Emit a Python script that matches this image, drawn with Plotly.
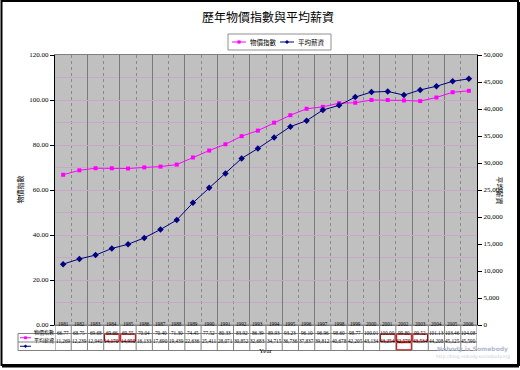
import plotly.graph_objects as go

years = list(range(1981, 2007))
cpi = [66.77, 68.75, 69.68, 69.66, 69.55, 70.04, 70.40, 71.30, 74.45, 77.52,
       80.33, 83.92, 86.39, 89.93, 93.23, 96.10, 96.96, 98.60, 98.77, 100.01,
       100.00, 99.80, 99.52, 101.13, 103.46, 104.08]
wage = [11269, 12239, 12940, 14170, 14950, 16133, 17690, 19439, 22636, 25411,
        28071, 30852, 32683, 34715, 36736, 37837, 39812, 40678, 42205, 43134,
        43254, 42570, 43534, 44208, 45125, 45590]
cpi_name = "物價指數"
wage_name = "平均薪資"
title_text = "歷年物價指數與平均薪資"
highlight_cpi = [1984, 1985, 2001, 2002, 2003]
highlight_wage = [2002]

W, H = 520, 370
L, R, T, B = 55, 477, 55, 325
FONT = "Liberation Serif, Noto Sans CJK TC"

def px(xp):
    return (xp - L) / (R - L)

def py(yp):
    return (B - yp) / (B - T)

PINK = "#ff00ff"
NAVY = "#000080"
HGRID = "#c8a8c8"

fig = go.Figure()
fig.add_trace(go.Scatter(x=years, y=cpi, name=cpi_name, mode="lines+markers",
                         line=dict(color=PINK, width=1),
                         marker=dict(symbol="square", size=4, color=PINK)))
fig.add_trace(go.Scatter(x=years, y=wage, name=wage_name, mode="lines+markers", yaxis="y2",
                         line=dict(color=NAVY, width=1),
                         marker=dict(symbol="diamond", size=5, color=NAVY)))

fig.update_layout(
    width=W, height=H,
    margin=dict(l=L, r=W - R, t=T, b=H - B),
    paper_bgcolor="white", plot_bgcolor="#c0c0c0",
    font=dict(family=FONT, size=7, color="black"),
    title=dict(text=title_text, x=(268) / W, xanchor="center", y=1 - 18 / H, yanchor="middle",
               font=dict(size=12, family=FONT)),
    showlegend=False,
    xaxis=dict(range=[1980.5, 2006.5], showticklabels=False, ticks="",
               tick0=1982.5, dtick=2, showgrid=True, gridcolor="#7a7a7a", gridwidth=1,
               minor=dict(tick0=1981.5, dtick=2, showgrid=True, gridcolor="#8a8a8a",
                          griddash="dot", gridwidth=1),
               zeroline=False, showline=True, linecolor="#808080", mirror=True),
    yaxis=dict(range=[0, 120], dtick=20, tickformat=".2f", ticks="outside", ticklen=4,
               tickcolor="black", showline=True, linecolor="black",
               showgrid=True, gridcolor=HGRID, gridwidth=1,
               minor=dict(dtick=10, showgrid=True, gridcolor=HGRID, ticks=""),
               zeroline=False),
    yaxis2=dict(range=[0, 50000], dtick=5000, tickformat=",d", ticks="outside", ticklen=4,
                tickcolor="black", overlaying="y", side="right", showline=True,
                linecolor="black", showgrid=False, zeroline=False),
)

shapes = []
annotations = []

def key(x0, x1, yc, col, sym, s=1.6):
    shapes.append(dict(type="line", xref="paper", yref="paper", x0=px(x0), x1=px(x1),
                       y0=py(yc), y1=py(yc), line=dict(color=col, width=1)))
    xm = (x0 + x1) / 2
    if sym == "square":
        shapes.append(dict(type="rect", xref="paper", yref="paper",
                           x0=px(xm - s), x1=px(xm + s), y0=py(yc + s), y1=py(yc - s),
                           fillcolor=col, line=dict(color=col, width=0)))
    else:
        s2 = s + 0.4
        path = (f"M {px(xm)} {py(yc - s2)} L {px(xm + s2)} {py(yc)} "
                f"L {px(xm)} {py(yc + s2)} L {px(xm - s2)} {py(yc)} Z")
        shapes.append(dict(type="path", xref="paper", yref="paper", path=path,
                           fillcolor=col, line=dict(color=col, width=0)))

# top legend (custom, compact)
LEG_Y = 42
shapes.append(dict(type="rect", xref="paper", yref="paper", x0=px(228), x1=px(331),
                   y0=py(50), y1=py(34), line=dict(color="#909090", width=1),
                   fillcolor="white"))
key(232, 246, LEG_Y, PINK, "square")
annotations.append(dict(x=px(248), y=py(LEG_Y), xref="paper", yref="paper", xanchor="left",
                        yanchor="middle", text=cpi_name, showarrow=False, font=dict(size=6.5)))
key(280, 294, LEG_Y, NAVY, "diamond")
annotations.append(dict(x=px(296), y=py(LEG_Y), xref="paper", yref="paper", xanchor="left",
                        yanchor="middle", text=wage_name, showarrow=False, font=dict(size=6.5)))

# data table
row_edges = [325, 333.5, 342, 350.5]
row_centers = [(row_edges[i] + row_edges[i + 1]) / 2 for i in range(3)]
line_col = "#808080"
shapes.append(dict(type="line", xref="paper", yref="paper", x0=0, x1=1,
                   y0=py(row_edges[0]), y1=py(row_edges[0]), line=dict(color=line_col, width=1)))
for e in row_edges[1:]:
    shapes.append(dict(type="line", xref="paper", yref="paper", x0=px(18), x1=1,
                       y0=py(e), y1=py(e), line=dict(color=line_col, width=1)))
for b in [y - 0.5 for y in years] + [2006.5]:
    shapes.append(dict(type="line", xref="x", yref="paper", x0=b, x1=b,
                       y0=py(row_edges[0]), y1=py(row_edges[3]), line=dict(color=line_col, width=1)))
shapes.append(dict(type="line", xref="paper", yref="paper", x0=px(18), x1=px(18),
                   y0=py(row_edges[1]), y1=py(row_edges[3]), line=dict(color=line_col, width=1)))

TFONT = dict(size=5.2, family="Liberation Serif", color="black")
for yr, c, w in zip(years, cpi, wage):
    annotations.append(dict(x=yr, xref="x", y=py(row_centers[0]), yref="paper",
                            text=str(yr), showarrow=False, font=TFONT))
    annotations.append(dict(x=yr, xref="x", y=py(row_centers[1]), yref="paper",
                            text=f"{c:.2f}", showarrow=False, font=TFONT))
    annotations.append(dict(x=yr, xref="x", y=py(row_centers[2]), yref="paper",
                            text=f"{w:,}", showarrow=False, font=TFONT))

for yr in highlight_cpi:
    shapes.append(dict(type="rect", xref="x", yref="paper", x0=yr - 0.45, x1=yr + 0.45,
                       y0=py(row_edges[2] - 0.7), y1=py(row_edges[1] + 0.7),
                       line=dict(color="#c00000", width=1)))
for yr in highlight_wage:
    shapes.append(dict(type="rect", xref="x", yref="paper", x0=yr - 0.45, x1=yr + 0.45,
                       y0=py(row_edges[3] - 0.7), y1=py(row_edges[2] + 0.7),
                       line=dict(color="#c00000", width=1)))

key(20, 31, row_centers[1], PINK, "square", 1.4)
annotations.append(dict(x=px(32), y=py(row_centers[1]), xref="paper", yref="paper",
                        xanchor="left", text=cpi_name, showarrow=False, font=dict(size=5)))
key(20, 31, row_centers[2], NAVY, "diamond", 1.4)
annotations.append(dict(x=px(32), y=py(row_centers[2]), xref="paper", yref="paper",
                        xanchor="left", text=wage_name, showarrow=False, font=dict(size=5)))

# axis titles
annotations.append(dict(x=px(13), y=py(190), xref="paper", yref="paper", text=cpi_name,
                        textangle=-90, showarrow=False, font=dict(size=7)))
annotations.append(dict(x=px(506), y=py(190), xref="paper", yref="paper", text=wage_name,
                        textangle=90, showarrow=False, font=dict(size=7)))
annotations.append(dict(x=px(266), y=py(357), xref="paper", yref="paper", text="Year",
                        showarrow=False, font=dict(size=7)))

# watermark
annotations.append(dict(x=px(510), y=py(355), xref="paper", yref="paper", xanchor="right",
                        text="<b>Nobody is Somebody</b>", showarrow=False,
                        font=dict(size=6, color="#b0b8d0", family="DejaVu Sans")))
annotations.append(dict(x=px(512), y=py(361), xref="paper", yref="paper", xanchor="right",
                        text="http://blog.nobody.somebody.org", showarrow=False,
                        font=dict(size=4.5, color="#c8cce0", family="DejaVu Sans")))

# outer frame
shapes.append(dict(type="rect", xref="paper", yref="paper", x0=px(1.5), x1=px(518),
                   y0=py(365), y1=py(1), line=dict(color="black", width=2), layer="above"))
shapes.append(dict(type="line", xref="paper", yref="paper", x0=px(518.5), x1=px(518.5),
                   y0=py(366), y1=py(2), line=dict(color="black", width=3)))
shapes.append(dict(type="line", xref="paper", yref="paper", x0=px(2), x1=px(519),
                   y0=py(366), y1=py(366), line=dict(color="black", width=3)))

fig.update_layout(shapes=shapes, annotations=annotations)
fig.write_html("out.html")
